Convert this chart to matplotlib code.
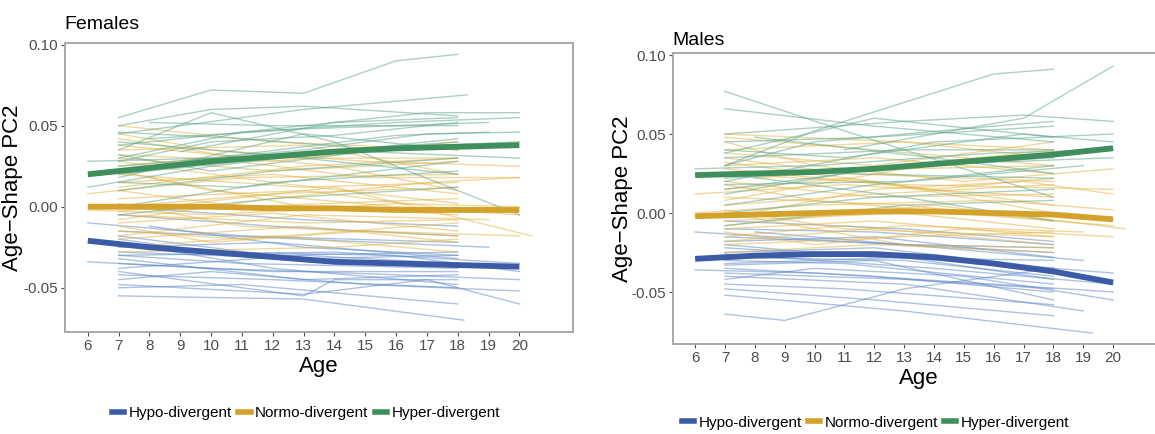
import matplotlib
matplotlib.use("Agg")
import matplotlib.pyplot as plt
from matplotlib.lines import Line2D

# ---------------------------------------------------------------------------
# data
# ---------------------------------------------------------------------------
groups = ["Hypo-divergent", "Normo-divergent", "Hyper-divergent"]

# thick group curves (age, value)
curve_ages = [6, 8, 10, 12, 14, 16, 18, 20]
f_curve_hypo = [-0.021, -0.025, -0.028, -0.031, -0.034, -0.035, -0.036, -0.037]
f_curve_normo = [0.000, 0.000, 0.000, -0.001, -0.001, -0.002, -0.002, -0.002]
f_curve_hyper = [0.020, 0.024, 0.028, 0.031, 0.034, 0.036, 0.037, 0.038]
m_curve_hypo = [-0.029, -0.027, -0.026, -0.026, -0.028, -0.032, -0.037, -0.044]
m_curve_normo = [-0.002, -0.001, 0.000, 0.001, 0.001, 0.000, -0.001, -0.004]
m_curve_hyper = [0.024, 0.025, 0.026, 0.028, 0.031, 0.034, 0.037, 0.041]

# individual trajectories: list of (age, value) points per subject
f_hyper = [
    [(7, 0.055), (10, 0.072), (13, 0.070), (16, 0.090), (18, 0.094)],
    [(7, 0.045), (13, 0.060), (18.3, 0.069)],
    [(7, 0.050), (10, 0.060), (13, 0.062), (18, 0.056)],
    [(7, 0.038), (12, 0.048), (17, 0.058), (20, 0.058)],
    [(7, 0.030), (11, 0.046), (16, 0.052), (20, 0.055)],
    [(8, 0.042), (13, 0.048), (19, 0.052)],
    [(7, 0.028), (10, 0.040), (14, 0.044), (18, 0.052)],
    [(7, 0.020), (12, 0.030), (18, 0.042)],
    [(6, 0.012), (10, 0.025), (15, 0.036), (20, 0.040)],
    [(7, 0.035), (10, 0.058), (14, 0.040), (20, -0.005)],
    [(7, 0.010), (12, 0.022), (18, 0.030)],
    [(7, 0.025), (13, 0.035), (17, 0.045), (20, 0.046)],
    [(8, 0.052), (12, 0.050), (18, 0.050)],
    [(7, 0.015), (11, 0.012), (18, 0.028)],
    [(7, 0.040), (13, 0.030), (18, 0.020)],
    [(7, 0.000), (12, 0.015), (18, 0.022)],
    [(6, 0.028), (10, 0.030), (16, 0.044), (19, 0.046)],
    [(7, 0.046), (11, 0.042), (15, 0.036), (18, 0.040)],
    [(7, 0.018), (13, 0.045), (18, 0.035)],
    [(9, 0.034), (14, 0.052), (18, 0.055)],
    [(7, -0.005), (12, 0.005), (18, 0.012)],
    [(7, 0.032), (10, 0.022), (15, 0.034), (20, 0.030)],
]
f_normo = [
    [(7, 0.050), (12, 0.040), (18, 0.035)],
    [(7, 0.042), (11, 0.030), (18, 0.030)],
    [(7, 0.035), (13, 0.038), (18, 0.020)],
    [(7, 0.030), (12, 0.022), (18, 0.028)],
    [(7, 0.025), (10, 0.030), (15, 0.018), (20, 0.018)],
    [(7, 0.020), (13, 0.012), (18, 0.015)],
    [(7, 0.015), (12, 0.020), (18, 0.008)],
    [(7, 0.010), (11, 0.000), (18, 0.005)],
    [(7, 0.005), (13, 0.010), (18, -0.002)],
    [(7, 0.000), (12, 0.008), (18, 0.012)],
    [(6, -0.002), (10, -0.005), (16, 0.002), (20, 0.000)],
    [(7, -0.005), (13, -0.010), (18, -0.008)],
    [(7, -0.010), (12, -0.004), (18, -0.015)],
    [(7, -0.015), (11, -0.020), (18, -0.010)],
    [(7, -0.020), (13, -0.012), (18, -0.022)],
    [(7, -0.025), (12, -0.018), (18, -0.028)],
    [(7, -0.028), (14, -0.025), (18, -0.020)],
    [(7, 0.045), (10, 0.035), (15, 0.028), (20, 0.025)],
    [(7, 0.038), (14, 0.025), (18, 0.010)],
    [(7, 0.022), (10, 0.010), (16, 0.000), (20, -0.005)],
    [(7, 0.012), (13, 0.025), (18, 0.030)],
    [(7, -0.008), (12, 0.005), (17, 0.015), (20, 0.018)],
    [(7, 0.002), (11, -0.012), (18, -0.018)],
    [(7, -0.018), (13, -0.005), (19, -0.008)],
    [(7, 0.028), (12, 0.015), (18, 0.002)],
    [(6, 0.008), (11, 0.018), (18, 0.020)],
    [(7, -0.012), (10, -0.022), (15, -0.015), (20, -0.018)],
    [(8, 0.018), (13, 0.000), (18, -0.005)],
    [(7, 0.032), (12, 0.028), (18, 0.040)],
    [(7, -0.003), (14, 0.012), (20.4, -0.018)],
]
f_hypo = [
    [(7, -0.055), (13, -0.057), (18.2, -0.070)],
    [(7, -0.050), (11, -0.048), (18, -0.060)],
    [(7, -0.048), (13, -0.054), (17, -0.045), (20, -0.060)],
    [(7, -0.042), (12, -0.045), (18, -0.050)],
    [(7, -0.040), (13, -0.055), (14, -0.045), (18, -0.045)],
    [(6, -0.034), (10, -0.038), (16, -0.042), (20, -0.045)],
    [(7, -0.035), (12, -0.040), (18, -0.040)],
    [(7, -0.030), (11, -0.035), (18, -0.038)],
    [(7, -0.028), (13, -0.032), (18, -0.030)],
    [(7, -0.025), (12, -0.022), (18, -0.032)],
    [(7, -0.020), (10, -0.028), (16, -0.030), (20, -0.040)],
    [(7, -0.018), (12, -0.030), (18, -0.028)],
    [(7, -0.015), (13, -0.020), (19, -0.025)],
    [(6, -0.010), (11, -0.018), (18, -0.022)],
    [(7, -0.005), (12, -0.012), (18, -0.018)],
    [(7, -0.032), (13, -0.045), (18, -0.042)],
    [(7, -0.045), (10, -0.040), (15, -0.048), (20, -0.052)],
    [(7, -0.038), (13, -0.030), (18, -0.035)],
    [(7, -0.022), (12, -0.038), (18, -0.048)],
    [(8, -0.012), (13, -0.025), (18, -0.030)],
    [(7, -0.030), (14, -0.028), (20, -0.035)],
    [(7, 0.000), (13, -0.008), (18, -0.012)],
]

m_hyper = [
    [(7, 0.077), (11, 0.052), (18, 0.010)],
    [(7, 0.066), (12, 0.055), (18, 0.045)],
    [(7, 0.030), (10, 0.052), (16, 0.088), (18, 0.091)],
    [(11, 0.040), (17, 0.060), (20, 0.093)],
    [(7, 0.050), (13, 0.058), (17, 0.062), (20, 0.058)],
    [(7, 0.045), (12, 0.048), (18, 0.055)],
    [(7, 0.040), (11, 0.035), (17, 0.050), (20, 0.045)],
    [(7, 0.035), (13, 0.040), (18, 0.040)],
    [(6, 0.028), (10, 0.030), (16, 0.038), (20, 0.040)],
    [(7, 0.022), (12, 0.028), (18, 0.035)],
    [(7, 0.018), (13, 0.020), (18, 0.030)],
    [(7, 0.012), (11, 0.025), (18, 0.022)],
    [(7, 0.025), (13, 0.010), (18, -0.005)],
    [(7, 0.005), (12, 0.018), (19, 0.030)],
    [(8, 0.048), (14, 0.035), (18, 0.025)],
    [(7, 0.030), (10, 0.045), (16, 0.055), (18, 0.058)],
    [(7, 0.015), (13, 0.030), (20, 0.035)],
    [(7, 0.000), (12, 0.010), (18, 0.015)],
    [(7, 0.038), (12, 0.060), (18, 0.048)],
    [(7, 0.020), (14, 0.045), (20, 0.050)],
    [(7, -0.008), (13, 0.005), (18, 0.008)],
]
m_normo = [
    [(7, 0.048), (12, 0.040), (18, 0.030)],
    [(7, 0.040), (13, 0.045), (18, 0.035)],
    [(7, 0.035), (11, 0.025), (18, 0.020)],
    [(7, 0.030), (12, 0.035), (18, 0.025)],
    [(7, 0.025), (13, 0.018), (20, 0.015)],
    [(7, 0.020), (12, 0.010), (18, 0.012)],
    [(7, 0.015), (11, 0.022), (18, 0.005)],
    [(7, 0.010), (13, 0.005), (18, -0.005)],
    [(7, 0.005), (12, 0.012), (18, 0.018)],
    [(6, 0.000), (10, 0.005), (16, 0.008), (20, 0.002)],
    [(7, -0.005), (13, 0.000), (18, -0.010)],
    [(7, -0.010), (12, -0.005), (18, -0.015)],
    [(7, -0.015), (11, -0.008), (18, -0.020)],
    [(7, -0.020), (13, -0.015), (18, -0.012)],
    [(7, -0.025), (12, -0.020), (18, -0.025)],
    [(7, 0.045), (10, 0.030), (15, 0.020), (20, 0.028)],
    [(7, 0.028), (14, 0.015), (18, 0.022)],
    [(7, 0.018), (10, 0.008), (16, -0.002), (20, -0.008)],
    [(7, 0.008), (13, 0.028), (18, 0.030)],
    [(7, -0.003), (12, 0.015), (17, 0.020), (20, 0.012)],
    [(7, 0.002), (11, -0.010), (18, -0.015)],
    [(7, -0.018), (13, -0.008), (19, -0.012)],
    [(7, 0.032), (12, 0.020), (18, 0.000)],
    [(6, 0.012), (11, 0.018), (18, 0.010)],
    [(7, -0.012), (10, -0.020), (15, -0.010), (20, -0.015)],
    [(8, 0.022), (13, 0.030), (18, 0.040)],
    [(7, 0.038), (12, 0.030), (18, 0.045)],
    [(7, -0.008), (14, 0.005), (20.4, -0.010)],
    [(7, 0.050), (13, 0.045), (18, 0.040)],
    [(7, 0.000), (13, -0.020), (18, -0.022)],
]
m_hypo = [
    [(7, -0.064), (9, -0.068), (13, -0.048), (18, -0.035)],
    [(7, -0.052), (13, -0.062), (19.3, -0.076)],
    [(7, -0.048), (12, -0.055), (18, -0.065)],
    [(7, -0.045), (11, -0.048), (18, -0.058)],
    [(7, -0.040), (13, -0.045), (19, -0.062)],
    [(6, -0.036), (10, -0.038), (16, -0.045), (20, -0.050)],
    [(7, -0.035), (12, -0.040), (18, -0.050)],
    [(7, -0.030), (11, -0.032), (18, -0.045)],
    [(7, -0.028), (13, -0.030), (18, -0.040)],
    [(7, -0.025), (12, -0.022), (18, -0.035)],
    [(7, -0.020), (10, -0.025), (16, -0.032), (20, -0.038)],
    [(7, -0.018), (12, -0.015), (18, -0.028)],
    [(7, -0.015), (13, -0.020), (19, -0.030)],
    [(6, -0.012), (11, -0.018), (18, -0.025)],
    [(7, -0.010), (12, -0.012), (18, -0.020)],
    [(7, -0.032), (13, -0.028), (18, -0.042)],
    [(7, -0.042), (10, -0.035), (15, -0.040), (20, -0.055)],
    [(7, -0.038), (13, -0.042), (18, -0.048)],
    [(7, -0.022), (12, -0.028), (18, -0.030)],
    [(8, -0.012), (13, -0.020), (18, -0.022)],
    [(7, -0.026), (14, -0.035), (20, -0.045)],
    [(7, -0.005), (13, -0.010), (18, -0.018)],
    [(7, -0.033), (12, -0.030), (18, -0.055)],
]

age_ticks = list(range(6, 21))
y_ticks = [-0.05, 0.00, 0.05, 0.10]
y_ticklabels = ["-0.05", "0.00", "0.05", "0.10"]

# ---------------------------------------------------------------------------
# styling
# ---------------------------------------------------------------------------
thick_cols = ["#3b5ba6", "#d4a22a", "#3f8f5c"]
thin_cols = ["#5a86c6", "#e2b23e", "#5aa488"]
plt.rcParams["font.family"] = ["Liberation Sans", "DejaVu Sans"]

fig = plt.figure(figsize=(11.55, 4.34), dpi=100)
ax_f = fig.add_axes([0.0563, 0.2350, 0.4398, 0.6659])
ax_m = fig.add_axes([0.5827, 0.2074, 0.4260, 0.6705])


def draw_panel(ax, title, trajs, curves, ylim, title_pad):
    # spaghetti lines first, then the fitted group curves on top
    for traj_list, col in zip(trajs, thin_cols):
        for traj in traj_list:
            xs = [p[0] for p in traj]
            ys = [p[1] for p in traj]
            ax.plot(xs, ys, color=col, lw=1.0, alpha=0.5, zorder=2)
    for vals, col in zip(curves, thick_cols):
        ax.plot(curve_ages, vals, color=col, lw=4.2, solid_capstyle="butt", zorder=4)

    ax.set_xlim(5.26, 21.74)
    ax.set_ylim(*ylim)
    ax.set_xticks(age_ticks)
    ax.set_xticklabels([str(a) for a in age_ticks], fontsize=11, color="#4d4d4d")
    ax.set_yticks(y_ticks)
    ax.set_yticklabels(y_ticklabels, fontsize=11, color="#4d4d4d")
    ax.tick_params(length=3, width=0.8, color="#4d4d4d", pad=2)
    for s in ax.spines.values():
        s.set_color("#a8a8a8")
        s.set_linewidth(1.4)
    ax.set_xlabel("Age", fontsize=16, labelpad=2)
    ax.set_ylabel("Age\u2212Shape PC2", fontsize=16)
    ax.yaxis.set_label_coords(-0.082, 0.5)
    ax.set_title(title, fontsize=14, loc="left", x=-0.002, pad=title_pad)

    handles = [Line2D([], [], color=c, lw=4) for c in thick_cols]
    return handles


h = draw_panel(ax_f, "Females", [f_hypo, f_normo, f_hyper],
               [f_curve_hypo, f_curve_normo, f_curve_hyper], (-0.0773, 0.101), 10)
draw_panel(ax_m, "Males", [m_hypo, m_normo, m_hyper],
           [m_curve_hypo, m_curve_normo, m_curve_hyper], (-0.0829, 0.1013), 6)

leg_kw = dict(ncol=3, frameon=False, handlelength=0.8, handletextpad=0.3,
              columnspacing=0.4, prop={"size": 11})
fig.legend(h, groups, loc="center", bbox_to_anchor=(0.265, 0.048), **leg_kw)
fig.legend(h, groups, loc="center", bbox_to_anchor=(0.758, 0.026), **leg_kw)

fig.savefig("out.png", dpi=100)
